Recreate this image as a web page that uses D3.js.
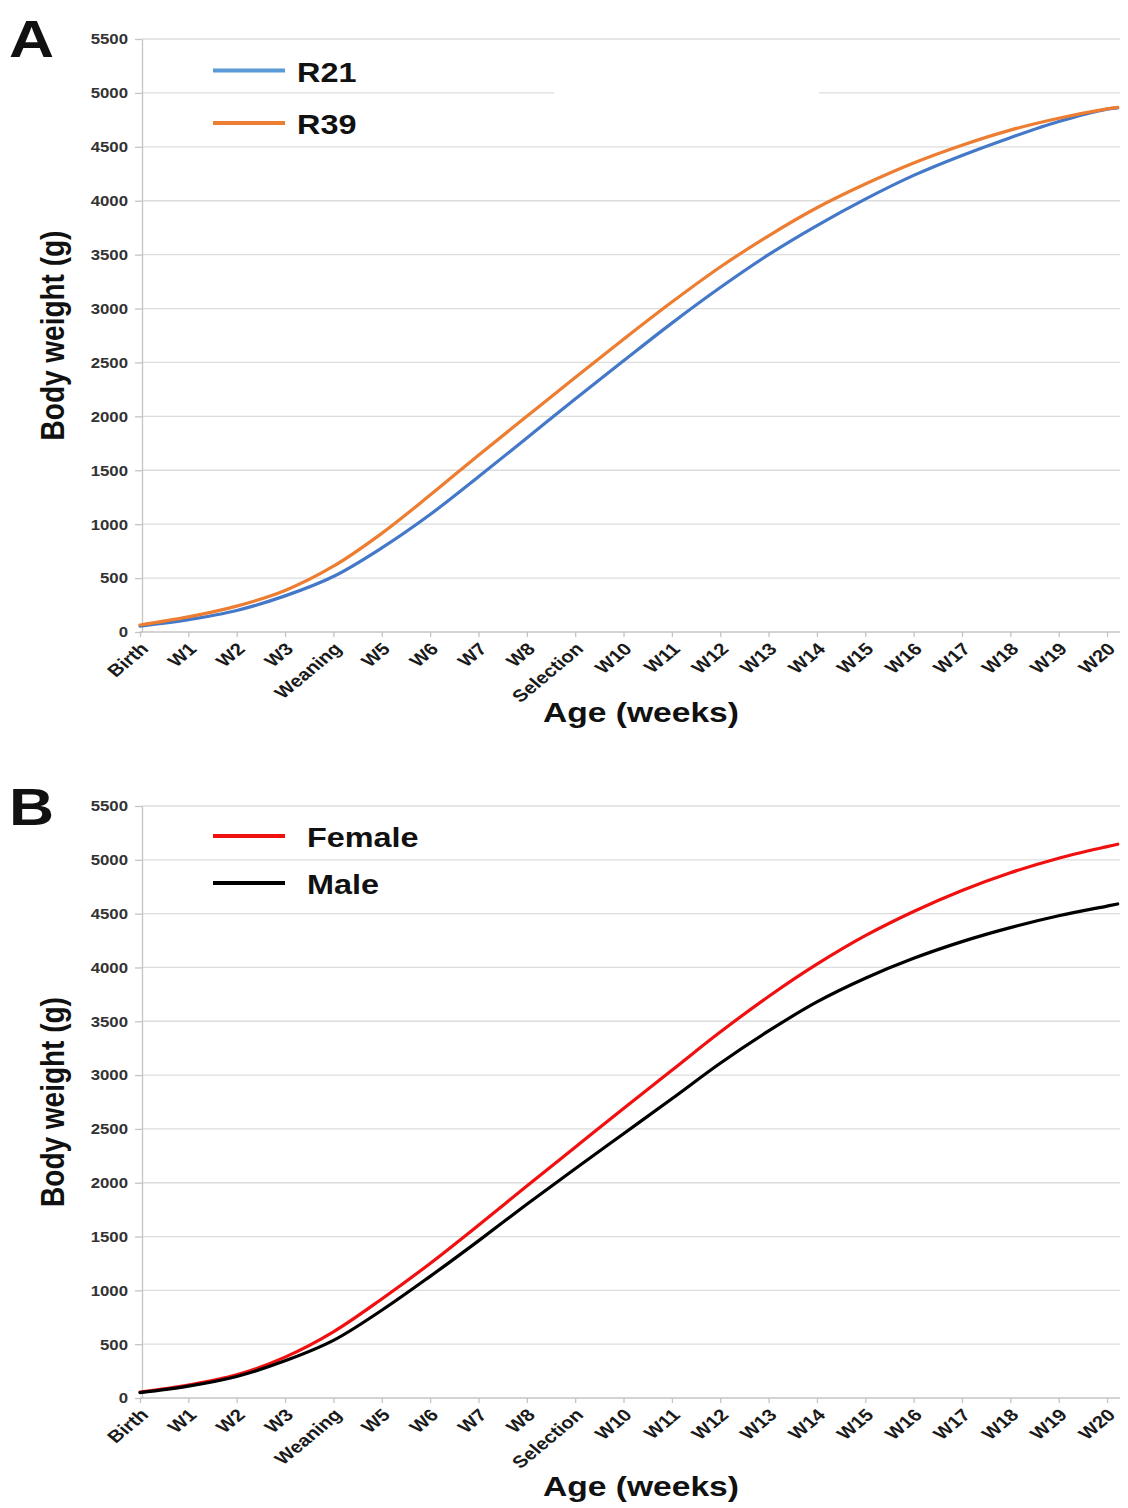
<!DOCTYPE html>
<html>
<head>
<meta charset="utf-8">
<script src="https://cdn.jsdelivr.net/npm/d3@7"></script>
<style>
  body { margin: 0; background: #fff; }
  svg { display: block; font-family: Arial, "Liberation Sans", sans-serif; }
</style>
</head>
<body>
<div id="chart"></div>
<script>
// x categories (one per week) and the week positions of the sampled points
const ageLabels = ['Birth', 'W1', 'W2', 'W3', 'Weaning', 'W5', 'W6', 'W7', 'W8', 'Selection',
  'W10', 'W11', 'W12', 'W13', 'W14', 'W15', 'W16', 'W17', 'W18', 'W19', 'W20'];
const sampleWeeks = [0, 1, 2, 3, 4, 5, 6, 7, 8, 9, 10, 11, 12, 13, 14, 15, 16, 17, 18, 19, 20, 20.22];
const yTicks = [0, 500, 1000, 1500, 2000, 2500, 3000, 3500, 4000, 4500, 5000, 5500];

// panel A: lines
const r21 = [55, 115, 200, 335, 515, 780, 1090, 1440, 1800, 2160, 2515, 2865, 3195, 3500, 3770, 4015, 4235, 4420, 4585, 4735, 4850, 4862];
const r39 = [65, 140, 240, 385, 610, 915, 1270, 1640, 2000, 2360, 2715, 3060, 3385, 3675, 3935, 4155, 4350, 4515, 4655, 4765, 4852, 4866];

// panel B: sexes
const female = [55, 120, 215, 380, 615, 920, 1250, 1605, 1970, 2330, 2690, 3045, 3400, 3730, 4030, 4295, 4520, 4715, 4880, 5015, 5123, 5145];
const male = [50, 110, 200, 345, 535, 815, 1130, 1460, 1800, 2130, 2455, 2780, 3110, 3410, 3680, 3900, 4085, 4240, 4370, 4480, 4570, 4590];

const STRETCH = 1.2;   // the source figure is stretched horizontally
const svg = d3.select('#chart').append('svg')
  .attr('width', 1128)
  .attr('height', 1508);

const x = d3.scaleLinear().domain([0, 20.22]).range([140, 1117.7]);

function stretchedText(g, px, py, str, size, anchor, rot) {
  return g.append('text')
    .attr('transform', `translate(${px},${py}) scale(${STRETCH},1)` + (rot ? ` rotate(${rot})` : ''))
    .attr('text-anchor', anchor)
    .attr('font-size', size)
    .attr('font-weight', 'bold')
    .attr('fill', '#111')
    .text(str);
}

function drawPanel(p) {
  const g = svg.append('g');
  const y = d3.scaleLinear().domain([0, 5500]).range([p.bottom, p.top]);

  // gridlines
  g.selectAll('line.grid')
    .data(yTicks.filter(d => d > 0))
    .enter().append('line')
    .attr('class', 'grid')
    .attr('x1', 142).attr('x2', 1120)
    .attr('y1', d => y(d)).attr('y2', d => y(d))
    .attr('stroke', '#dcdcdc')
    .attr('stroke-width', 1.3);

  if (p.gap) {
    g.append('rect')
      .attr('x', p.gap[0]).attr('width', p.gap[1] - p.gap[0])
      .attr('y', y(5000) - 4).attr('height', 8)
      .attr('fill', '#fff');
  }

  // y axis
  const yAxis = g.append('g')
    .attr('transform', 'translate(142,0)')
    .call(d3.axisLeft(y).tickValues(yTicks).tickSize(7).tickSizeOuter(0).tickFormat(d3.format('d')));
  yAxis.selectAll('path, line').attr('stroke', '#c4c4c4').attr('stroke-width', 1.3);
  yAxis.selectAll('text')
    .attr('x', null).attr('dy', '0.35em')
    .attr('transform', `translate(-14,0) scale(${STRETCH},1)`)
    .attr('text-anchor', 'end')
    .attr('font-size', 14)
    .attr('font-weight', 'bold')
    .attr('font-family', 'Arial, "Liberation Sans", sans-serif')
    .attr('fill', '#333');

  // x axis
  const xAxis = g.append('g')
    .attr('transform', `translate(0,${p.bottom})`)
    .call(d3.axisBottom(x).tickValues(d3.range(ageLabels.length)).tickSize(5).tickSizeOuter(0)
      .tickFormat(i => ageLabels[i]));
  xAxis.select('path').attr('d', `M140,0H1120`);
  xAxis.selectAll('path, line').attr('stroke', '#c4c4c4').attr('stroke-width', 1.3);
  xAxis.selectAll('text')
    .attr('x', null).attr('y', null).attr('dy', null)
    .attr('transform', `translate(9,18) scale(${STRETCH},1) rotate(-45)`)
    .attr('text-anchor', 'end')
    .attr('font-size', 17)
    .attr('font-weight', 'bold')
    .attr('font-family', 'Arial, "Liberation Sans", sans-serif')
    .attr('fill', '#1a1a1a');

  // series lines
  const line = d3.line()
    .x((d, i) => x(sampleWeeks[i]))
    .y(d => y(d))
    .curve(d3.curveCatmullRom.alpha(0.5));

  p.series.forEach(s => {
    g.append('path')
      .datum(s.values)
      .attr('d', line)
      .attr('fill', 'none')
      .attr('stroke', s.color)
      .attr('stroke-width', 3.2)
      .attr('stroke-linecap', 'round');
  });

  // legend
  p.series.forEach((s, i) => {
    const ly = p.legendY[i];
    g.append('line')
      .attr('x1', 213).attr('x2', 285)
      .attr('y1', ly).attr('y2', ly)
      .attr('stroke', s.legendColor || s.color)
      .attr('stroke-width', 4);
    stretchedText(g, p.legendX, ly + 11, s.name, 27, 'start');
  });

  // titles and panel letter
  stretchedText(g, 641, p.xTitleY, 'Age (weeks)', 28, 'middle');
  stretchedText(g, 64, (p.top + p.bottom) / 2, 'Body weight (g)', 28, 'middle', -90);
  stretchedText(g, 9, p.letterY, p.letter, 52, 'start');
}

drawPanel({
  letter: 'A', letterY: 57,
  top: 39, bottom: 632,
  xTitleY: 722,
  legendX: 297, legendY: [70.5, 123],
  gap: [554, 819],
  series: [
    { name: 'R21', values: r21, color: '#4478c8', legendColor: '#5b9bd5' },
    { name: 'R39', values: r39, color: '#ed7d31' }
  ]
});

drawPanel({
  letter: 'B', letterY: 825,
  top: 806, bottom: 1398,
  xTitleY: 1496,
  legendX: 307, legendY: [836, 883],
  series: [
    { name: 'Female', values: female, color: '#f01010' },
    { name: 'Male', values: male, color: '#000' }
  ]
});
</script>
</body>
</html>
